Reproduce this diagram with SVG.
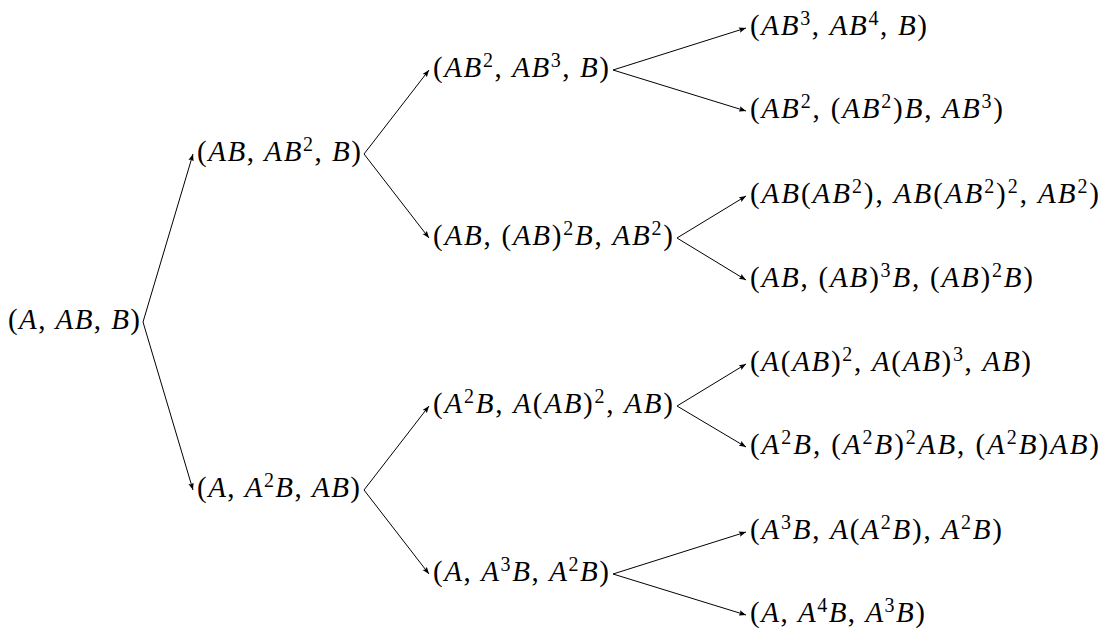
<svg xmlns="http://www.w3.org/2000/svg" width="1105" height="633" viewBox="0 0 1105 633">
<defs>
<marker id="ah" markerUnits="userSpaceOnUse" markerWidth="8" markerHeight="6" refX="7" refY="3" orient="auto">
<path d="M0,0.3 L7,3 L0,5.7 L1.2,3 Z" fill="#000"/>
</marker>
</defs>
<rect width="1105" height="633" fill="#fff"/>
<g id="connectors" fill="none" stroke="#000" stroke-width="1" marker-end="url(#ah)">
<path d="M143,322 L193,154"/>
<path d="M143,322 L193,490"/>
<path d="M364,154 L429,70"/>
<path d="M364,154 L429,238"/>
<path d="M364,490 L429,406"/>
<path d="M364,490 L429,574"/>
<path d="M613,70 L746,28"/>
<path d="M613,70 L746,111"/>
<path d="M677,238 L746,196"/>
<path d="M677,238 L746,280"/>
<path d="M677,406 L746,364"/>
<path d="M677,406 L746,447"/>
<path d="M613,574 L746,532"/>
<path d="M613,574 L746,615"/>
</g>
<g id="root"><text x="8" y="329" font-size="29" font-family="Liberation Serif" textLength="132">(<tspan font-style="italic">A</tspan>, <tspan font-style="italic">AB</tspan>, <tspan font-style="italic">B</tspan>)</text></g>
<g id="n1"><text x="197" y="161" font-size="29" font-family="Liberation Serif" textLength="164">(<tspan font-style="italic">AB</tspan>, <tspan font-style="italic">AB</tspan><tspan font-size="20" dy="-10">2</tspan><tspan dy="10">, </tspan><tspan font-style="italic">B</tspan>)</text></g>
<g id="n2"><text x="197" y="497" font-size="29" font-family="Liberation Serif" textLength="163">(<tspan font-style="italic">A</tspan>, <tspan font-style="italic">A</tspan><tspan font-size="20" dy="-10">2</tspan><tspan font-style="italic" dy="10">B</tspan>, <tspan font-style="italic">AB</tspan>)</text></g>
<g id="n11"><text x="433" y="77" font-size="29" font-family="Liberation Serif" textLength="176">(<tspan font-style="italic">AB</tspan><tspan font-size="20" dy="-10">2</tspan><tspan dy="10">, </tspan><tspan font-style="italic">AB</tspan><tspan font-size="20" dy="-10">3</tspan><tspan dy="10">, </tspan><tspan font-style="italic">B</tspan>)</text></g>
<g id="n12"><text x="433" y="245" font-size="29" font-family="Liberation Serif" textLength="240">(<tspan font-style="italic">AB</tspan>, (<tspan font-style="italic">AB</tspan>)<tspan font-size="20" dy="-10">2</tspan><tspan font-style="italic" dy="10">B</tspan>, <tspan font-style="italic">AB</tspan><tspan font-size="20" dy="-10">2</tspan><tspan dy="10">)</tspan></text></g>
<g id="n21"><text x="433" y="413" font-size="29" font-family="Liberation Serif" textLength="240">(<tspan font-style="italic">A</tspan><tspan font-size="20" dy="-10">2</tspan><tspan font-style="italic" dy="10">B</tspan>, <tspan font-style="italic">A</tspan>(<tspan font-style="italic">AB</tspan>)<tspan font-size="20" dy="-10">2</tspan><tspan dy="10">, </tspan><tspan font-style="italic">AB</tspan>)</text></g>
<g id="n22"><text x="433" y="581" font-size="29" font-family="Liberation Serif" textLength="176">(<tspan font-style="italic">A</tspan>, <tspan font-style="italic">A</tspan><tspan font-size="20" dy="-10">3</tspan><tspan font-style="italic" dy="10">B</tspan>, <tspan font-style="italic">A</tspan><tspan font-size="20" dy="-10">2</tspan><tspan font-style="italic" dy="10">B</tspan>)</text></g>
<g id="n111"><text x="750" y="35" font-size="29" font-family="Liberation Serif" textLength="177">(<tspan font-style="italic">AB</tspan><tspan font-size="20" dy="-10">3</tspan><tspan dy="10">, </tspan><tspan font-style="italic">AB</tspan><tspan font-size="20" dy="-10">4</tspan><tspan dy="10">, </tspan><tspan font-style="italic">B</tspan>)</text></g>
<g id="n112"><text x="750" y="118" font-size="29" font-family="Liberation Serif" textLength="253">(<tspan font-style="italic">AB</tspan><tspan font-size="20" dy="-10">2</tspan><tspan dy="10">, (</tspan><tspan font-style="italic">AB</tspan><tspan font-size="20" dy="-10">2</tspan><tspan dy="10">)</tspan><tspan font-style="italic">B</tspan>, <tspan font-style="italic">AB</tspan><tspan font-size="20" dy="-10">3</tspan><tspan dy="10">)</tspan></text></g>
<g id="n121"><text x="750" y="203" font-size="29" font-family="Liberation Serif" textLength="349">(<tspan font-style="italic">AB</tspan>(<tspan font-style="italic">AB</tspan><tspan font-size="20" dy="-10">2</tspan><tspan dy="10">), </tspan><tspan font-style="italic">AB</tspan>(<tspan font-style="italic">AB</tspan><tspan font-size="20" dy="-10">2</tspan><tspan dy="10">)</tspan><tspan font-size="20" dy="-10">2</tspan><tspan dy="10">, </tspan><tspan font-style="italic">AB</tspan><tspan font-size="20" dy="-10">2</tspan><tspan dy="10">)</tspan></text></g>
<g id="n122"><text x="750" y="287" font-size="29" font-family="Liberation Serif" textLength="283">(<tspan font-style="italic">AB</tspan>, (<tspan font-style="italic">AB</tspan>)<tspan font-size="20" dy="-10">3</tspan><tspan font-style="italic" dy="10">B</tspan>, (<tspan font-style="italic">AB</tspan>)<tspan font-size="20" dy="-10">2</tspan><tspan font-style="italic" dy="10">B</tspan>)</text></g>
<g id="n211"><text x="750" y="371" font-size="29" font-family="Liberation Serif" textLength="281">(<tspan font-style="italic">A</tspan>(<tspan font-style="italic">AB</tspan>)<tspan font-size="20" dy="-10">2</tspan><tspan dy="10">, </tspan><tspan font-style="italic">A</tspan>(<tspan font-style="italic">AB</tspan>)<tspan font-size="20" dy="-10">3</tspan><tspan dy="10">, </tspan><tspan font-style="italic">AB</tspan>)</text></g>
<g id="n212"><text x="750" y="454" font-size="29" font-family="Liberation Serif" textLength="349">(<tspan font-style="italic">A</tspan><tspan font-size="20" dy="-10">2</tspan><tspan font-style="italic" dy="10">B</tspan>, (<tspan font-style="italic">A</tspan><tspan font-size="20" dy="-10">2</tspan><tspan font-style="italic" dy="10">B</tspan>)<tspan font-size="20" dy="-10">2</tspan><tspan font-style="italic" dy="10">AB</tspan>, (<tspan font-style="italic">A</tspan><tspan font-size="20" dy="-10">2</tspan><tspan font-style="italic" dy="10">B</tspan>)<tspan font-style="italic">AB</tspan>)</text></g>
<g id="n221"><text x="750" y="539" font-size="29" font-family="Liberation Serif" textLength="252">(<tspan font-style="italic">A</tspan><tspan font-size="20" dy="-10">3</tspan><tspan font-style="italic" dy="10">B</tspan>, <tspan font-style="italic">A</tspan>(<tspan font-style="italic">A</tspan><tspan font-size="20" dy="-10">2</tspan><tspan font-style="italic" dy="10">B</tspan>), <tspan font-style="italic">A</tspan><tspan font-size="20" dy="-10">2</tspan><tspan font-style="italic" dy="10">B</tspan>)</text></g>
<g id="n222"><text x="750" y="622" font-size="29" font-family="Liberation Serif" textLength="175">(<tspan font-style="italic">A</tspan>, <tspan font-style="italic">A</tspan><tspan font-size="20" dy="-10">4</tspan><tspan font-style="italic" dy="10">B</tspan>, <tspan font-style="italic">A</tspan><tspan font-size="20" dy="-10">3</tspan><tspan font-style="italic" dy="10">B</tspan>)</text></g>
</svg>
